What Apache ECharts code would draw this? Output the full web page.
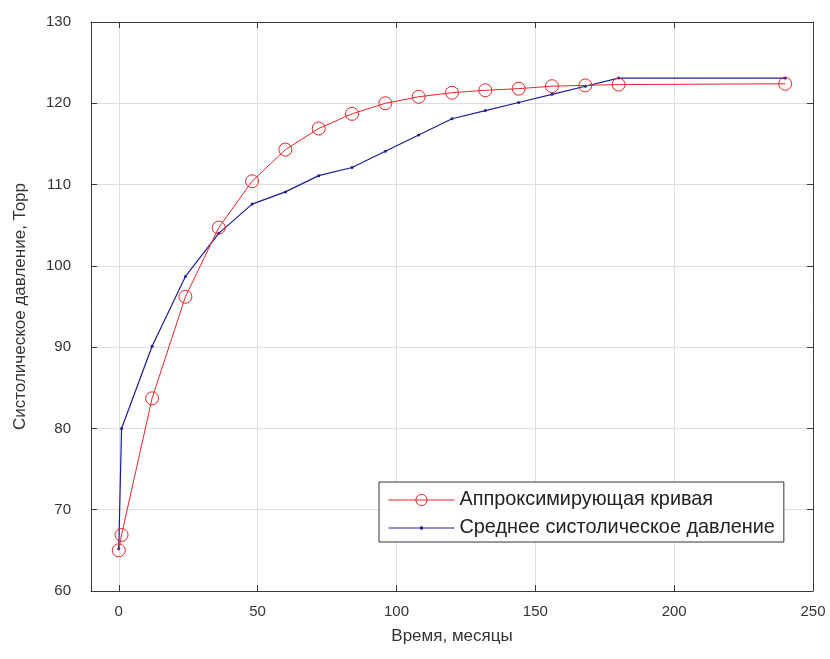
<!DOCTYPE html>
<html>
<head>
<meta charset="utf-8">
<script src="https://cdn.jsdelivr.net/npm/echarts@6/dist/echarts.min.js"></script>
<style>
html,body{margin:0;padding:0;background:#fff;}
#chart{width:830px;height:659px;}
</style>
</head>
<body>
<div id="chart"></div>
<script>
const months = [0, 1, 12, 24, 36, 48, 60, 72, 84, 96, 108, 120, 132, 144, 156, 168, 180, 240];
const approxCurve = [65.0, 66.9, 83.7, 96.2, 104.7, 110.4, 114.3, 116.9, 118.7, 120.0, 120.8, 121.3, 121.6, 121.8, 122.1, 122.2, 122.3, 122.4];
const meanPressure = [65.2, 80.0, 90.1, 98.7, 104.0, 107.6, 109.1, 111.1, 112.1, 114.1, 116.1, 118.1, 119.1, 120.1, 121.1, 122.1, 123.1, 123.1];
const seriesNames = ['Аппроксимирующая кривая', 'Среднее систолическое давление'];
const xTitle = 'Время, месяцы';
const yTitle = 'Систолическое давление, Торр';

const pairs = (xs, ys) => xs.map((x, i) => [x, ys[i]]);
const FONT = 'Liberation Sans, Arial, sans-serif';
const axisColor = '#3a3a3a';
const gridColor = '#dedede';
const RED = '#e3262b';
const BLUE = '#1c1c98';

// legend icons: thin line + marker (tiny corner triangles fix the bounding box)
const blueIcon = 'path://M0,0 L0.01,0 L0,0.01 Z M66,14 L65.99,14 L66,13.99 Z M0,6.5 L66,6.5 L66,7.6 L0,7.6 Z M31.5,5.5 L34.5,5.5 L34.5,8.5 L31.5,8.5 Z';

const chart = echarts.init(document.getElementById('chart'));
chart.setOption({
  animation: false,
  backgroundColor: '#fff',
  grid: { left: 91, right: 17, top: 22, bottom: 68, containLabel: false, show: false },
  xAxis: [{
    type: 'value', min: -10, max: 250, splitNumber: 5,
    name: xTitle, nameLocation: 'middle', nameGap: 37,
    nameTextStyle: { fontFamily: FONT, fontSize: 17, color: '#333' },
    axisLine: { show: true, onZero: false, lineStyle: { color: axisColor, width: 1 } },
    axisTick: { show: true, inside: true, length: 6, lineStyle: { color: axisColor } },
    axisLabel: { showMinLabel: false, margin: 13, fontFamily: FONT, fontSize: 15, color: '#333' },
    splitLine: { show: true, lineStyle: { color: gridColor, width: 1 } }
  }, {
    type: 'value', min: -10, max: 250, splitNumber: 5, position: 'top',
    axisLine: { show: true, onZero: false, lineStyle: { color: axisColor, width: 1 } },
    axisTick: { show: true, inside: true, length: 6, lineStyle: { color: axisColor } },
    axisLabel: { show: false }, splitLine: { show: false }
  }],
  yAxis: [{
    type: 'value', min: 60, max: 130, interval: 10,
    name: yTitle, nameLocation: 'middle', nameGap: 62,
    nameTextStyle: { fontFamily: FONT, fontSize: 17, color: '#333' },
    axisLine: { show: true, onZero: false, lineStyle: { color: axisColor, width: 1 } },
    axisTick: { show: true, inside: true, length: 6, lineStyle: { color: axisColor } },
    axisLabel: { margin: 20, fontFamily: FONT, fontSize: 15, color: '#333' },
    splitLine: { show: true, lineStyle: { color: gridColor, width: 1 } }
  }, {
    type: 'value', min: 60, max: 130, interval: 10, position: 'right',
    axisLine: { show: true, onZero: false, lineStyle: { color: axisColor, width: 1 } },
    axisTick: { show: true, inside: true, length: 6, lineStyle: { color: axisColor } },
    axisLabel: { show: false }, splitLine: { show: false }
  }],
  legend: {
    orient: 'vertical', left: 379, top: 482,
    itemWidth: 66, itemHeight: 14, itemGap: 8,
    padding: [8, 9, 4, 9],
    borderColor: '#333', borderWidth: 1, borderRadius: 0, backgroundColor: '#fff',
    textStyle: { fontFamily: FONT, fontSize: 19.85, color: '#222' },
    data: [
      { name: seriesNames[0], lineStyle: { width: 1 }, itemStyle: { borderWidth: 1 } },
      { name: seriesNames[1], icon: blueIcon, itemStyle: { color: BLUE } }
    ]
  },
  series: [{
    name: seriesNames[0], type: 'line', xAxisIndex: 0, yAxisIndex: 0,
    data: pairs(months, approxCurve),
    symbol: 'circle', symbolSize: 13,
    itemStyle: { color: 'rgba(255,255,255,0)', borderColor: RED, borderWidth: 1 },
    lineStyle: { color: RED, width: 1 },
    z: 3
  }, {
    name: seriesNames[1], type: 'line', xAxisIndex: 0, yAxisIndex: 0,
    data: pairs(months, meanPressure),
    symbol: 'circle', symbolSize: 3,
    itemStyle: { color: BLUE },
    lineStyle: { color: BLUE, width: 1.2 },
    z: 2
  }]
});
</script>
</body>
</html>
